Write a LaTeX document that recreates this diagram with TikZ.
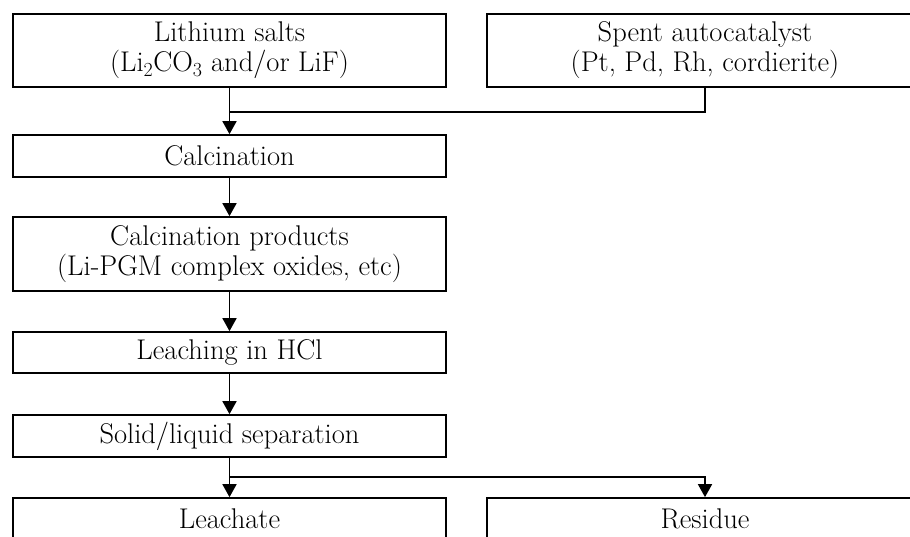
\documentclass[tikz,border=0pt]{standalone}
\usetikzlibrary{arrows.meta}
\begin{document}
\begin{tikzpicture}[x=1pt,y=-1pt,
  box/.style={draw, line width=1.7pt, rectangle, inner sep=0pt, align=center,
    minimum width=433pt, font=\fontsize{28.5}{30}\selectfont},
  rbox/.style={box, minimum width=436pt},
  conn/.style={line width=1.7pt},
  arr/.style={conn, -{Triangle[width=14pt,length=13pt]}}]
\useasboundingbox (0,0) rectangle (910,536);
\clip (0,0) rectangle (910,536);
\node[box, minimum height=73pt] (lith) at (229.5,50.5) {Lithium salts\\(Li\textsubscript{2}CO\textsubscript{3} and/or LiF)};
\node[rbox, minimum height=73pt] (spent) at (705,50.5) {Spent autocatalyst\\(Pt, Pd, Rh, cordierite)};
\node[box, minimum height=42pt] (calc) at (229.5,156) {Calcination};
\node[box, minimum height=74pt] (prod) at (229.5,254) {Calcination products\\(Li-PGM complex oxides, etc)};
\node[box, minimum height=41pt] (leach) at (229.5,352.5) {Leaching in HCl};
\node[box, minimum height=42pt] (sep) at (229.5,436) {Solid/liquid separation};
\node[box, minimum height=42pt] (leachate) at (229.5,519) {Leachate};
\node[rbox, minimum height=42pt] (residue) at (705,519) {Residue};
\coordinate (j1) at (229.5,112);
\coordinate (j2) at (229.5,477);
\draw[arr] (lith.south) -- (calc.north);
\draw[conn] (spent.south) |- (j1);
\draw[arr] (calc.south) -- (prod.north);
\draw[arr] (prod.south) -- (leach.north);
\draw[arr] (leach.south) -- (sep.north);
\draw[arr] (sep.south) -- (leachate.north);
\draw[arr] (j2) -| (residue.north);
\end{tikzpicture}
\end{document}
